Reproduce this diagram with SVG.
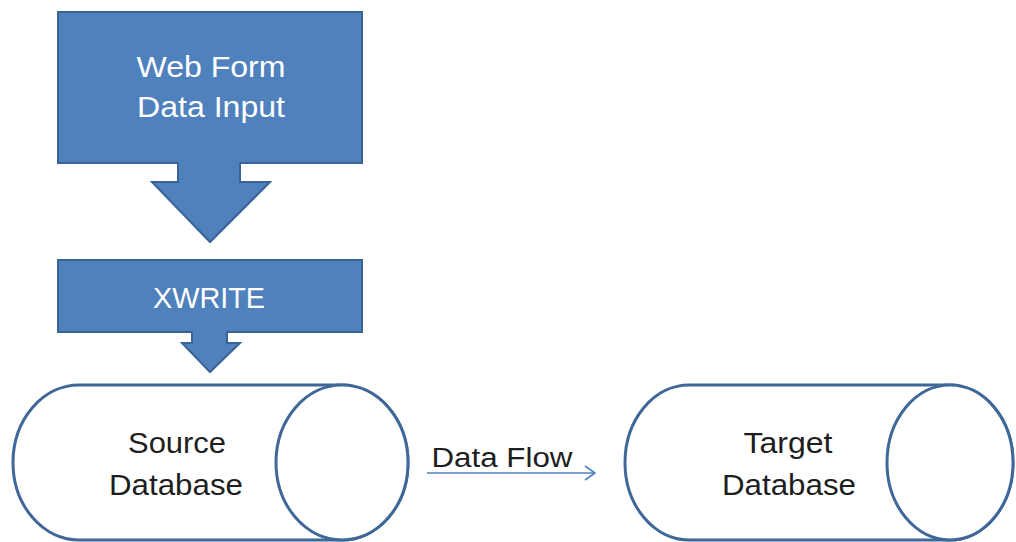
<svg xmlns="http://www.w3.org/2000/svg" width="1016" height="542" viewBox="0 0 1016 542">
  <defs>
    <style>
      .blue { fill: #4F81BD; stroke: #3A6396; stroke-width: 2; }
      .cyl { fill: #FFFFFF; stroke: #3F6898; stroke-width: 3; }
      .wt { font-family: "Liberation Sans", Arial, sans-serif; font-size: 29px; fill: #FFFFFF; text-anchor: middle; }
      .dt { font-family: "Liberation Sans", Arial, sans-serif; font-size: 29px; fill: #1E1E1E; text-anchor: middle; }
      .conn { stroke: #4F81BD; stroke-width: 1.6; fill: none; }
    </style>
    <marker id="open" viewBox="0 0 12 16" refX="11" refY="8" markerWidth="12" markerHeight="16" markerUnits="userSpaceOnUse" orient="auto">
      <polyline points="1,1 11,8 1,15" fill="none" stroke="#4F81BD" stroke-width="1.6"/>
    </marker>
  </defs>
  <rect width="1016" height="542" fill="#FFFFFF"/>

  <g id="webform">
    <path class="blue" d="M58,12 H362 V163 H240 V182 H270 L210,242 L152,182 H178 V163 H58 Z"/>
    <text class="wt" x="211" y="77" textLength="149" lengthAdjust="spacingAndGlyphs">Web Form</text>
    <text class="wt" x="211" y="117" textLength="148" lengthAdjust="spacingAndGlyphs">Data Input</text>
  </g>

  <g id="xwrite">
    <path class="blue" d="M58,260 H362 V332 H227 V343 H240 L210,372 L182,343 H192 V332 H58 Z"/>
    <text class="wt" x="209" y="308" textLength="112" lengthAdjust="spacingAndGlyphs">XWRITE</text>
  </g>

  <g id="source">
    <path class="cyl" d="M79,385 H342 A66,77.5 0 0 1 342,540 H79 A66,77.5 0 0 1 79,385 Z"/>
    <ellipse class="cyl" cx="342" cy="462.5" rx="66" ry="77.5"/>
    <text class="dt" x="177" y="453" textLength="98" lengthAdjust="spacingAndGlyphs">Source</text>
    <text class="dt" x="176" y="495" textLength="134" lengthAdjust="spacingAndGlyphs">Database</text>
  </g>

  <g id="target">
    <path class="cyl" d="M689,385 H950 A63,77.5 0 0 1 950,540 H689 A64,77.5 0 0 1 689,385 Z"/>
    <ellipse class="cyl" cx="950" cy="462.5" rx="63" ry="77.5"/>
    <text class="dt" x="788" y="453" textLength="89" lengthAdjust="spacingAndGlyphs">Target</text>
    <text class="dt" x="789" y="495" textLength="134" lengthAdjust="spacingAndGlyphs">Database</text>
  </g>

  <g id="connectors">
    <line class="conn" x1="427" y1="473" x2="595" y2="473" marker-end="url(#open)"/>
    <text class="dt" x="502" y="467" font-size="27" style="font-size:27px" textLength="141" lengthAdjust="spacingAndGlyphs">Data Flow</text>
  </g>
</svg>
